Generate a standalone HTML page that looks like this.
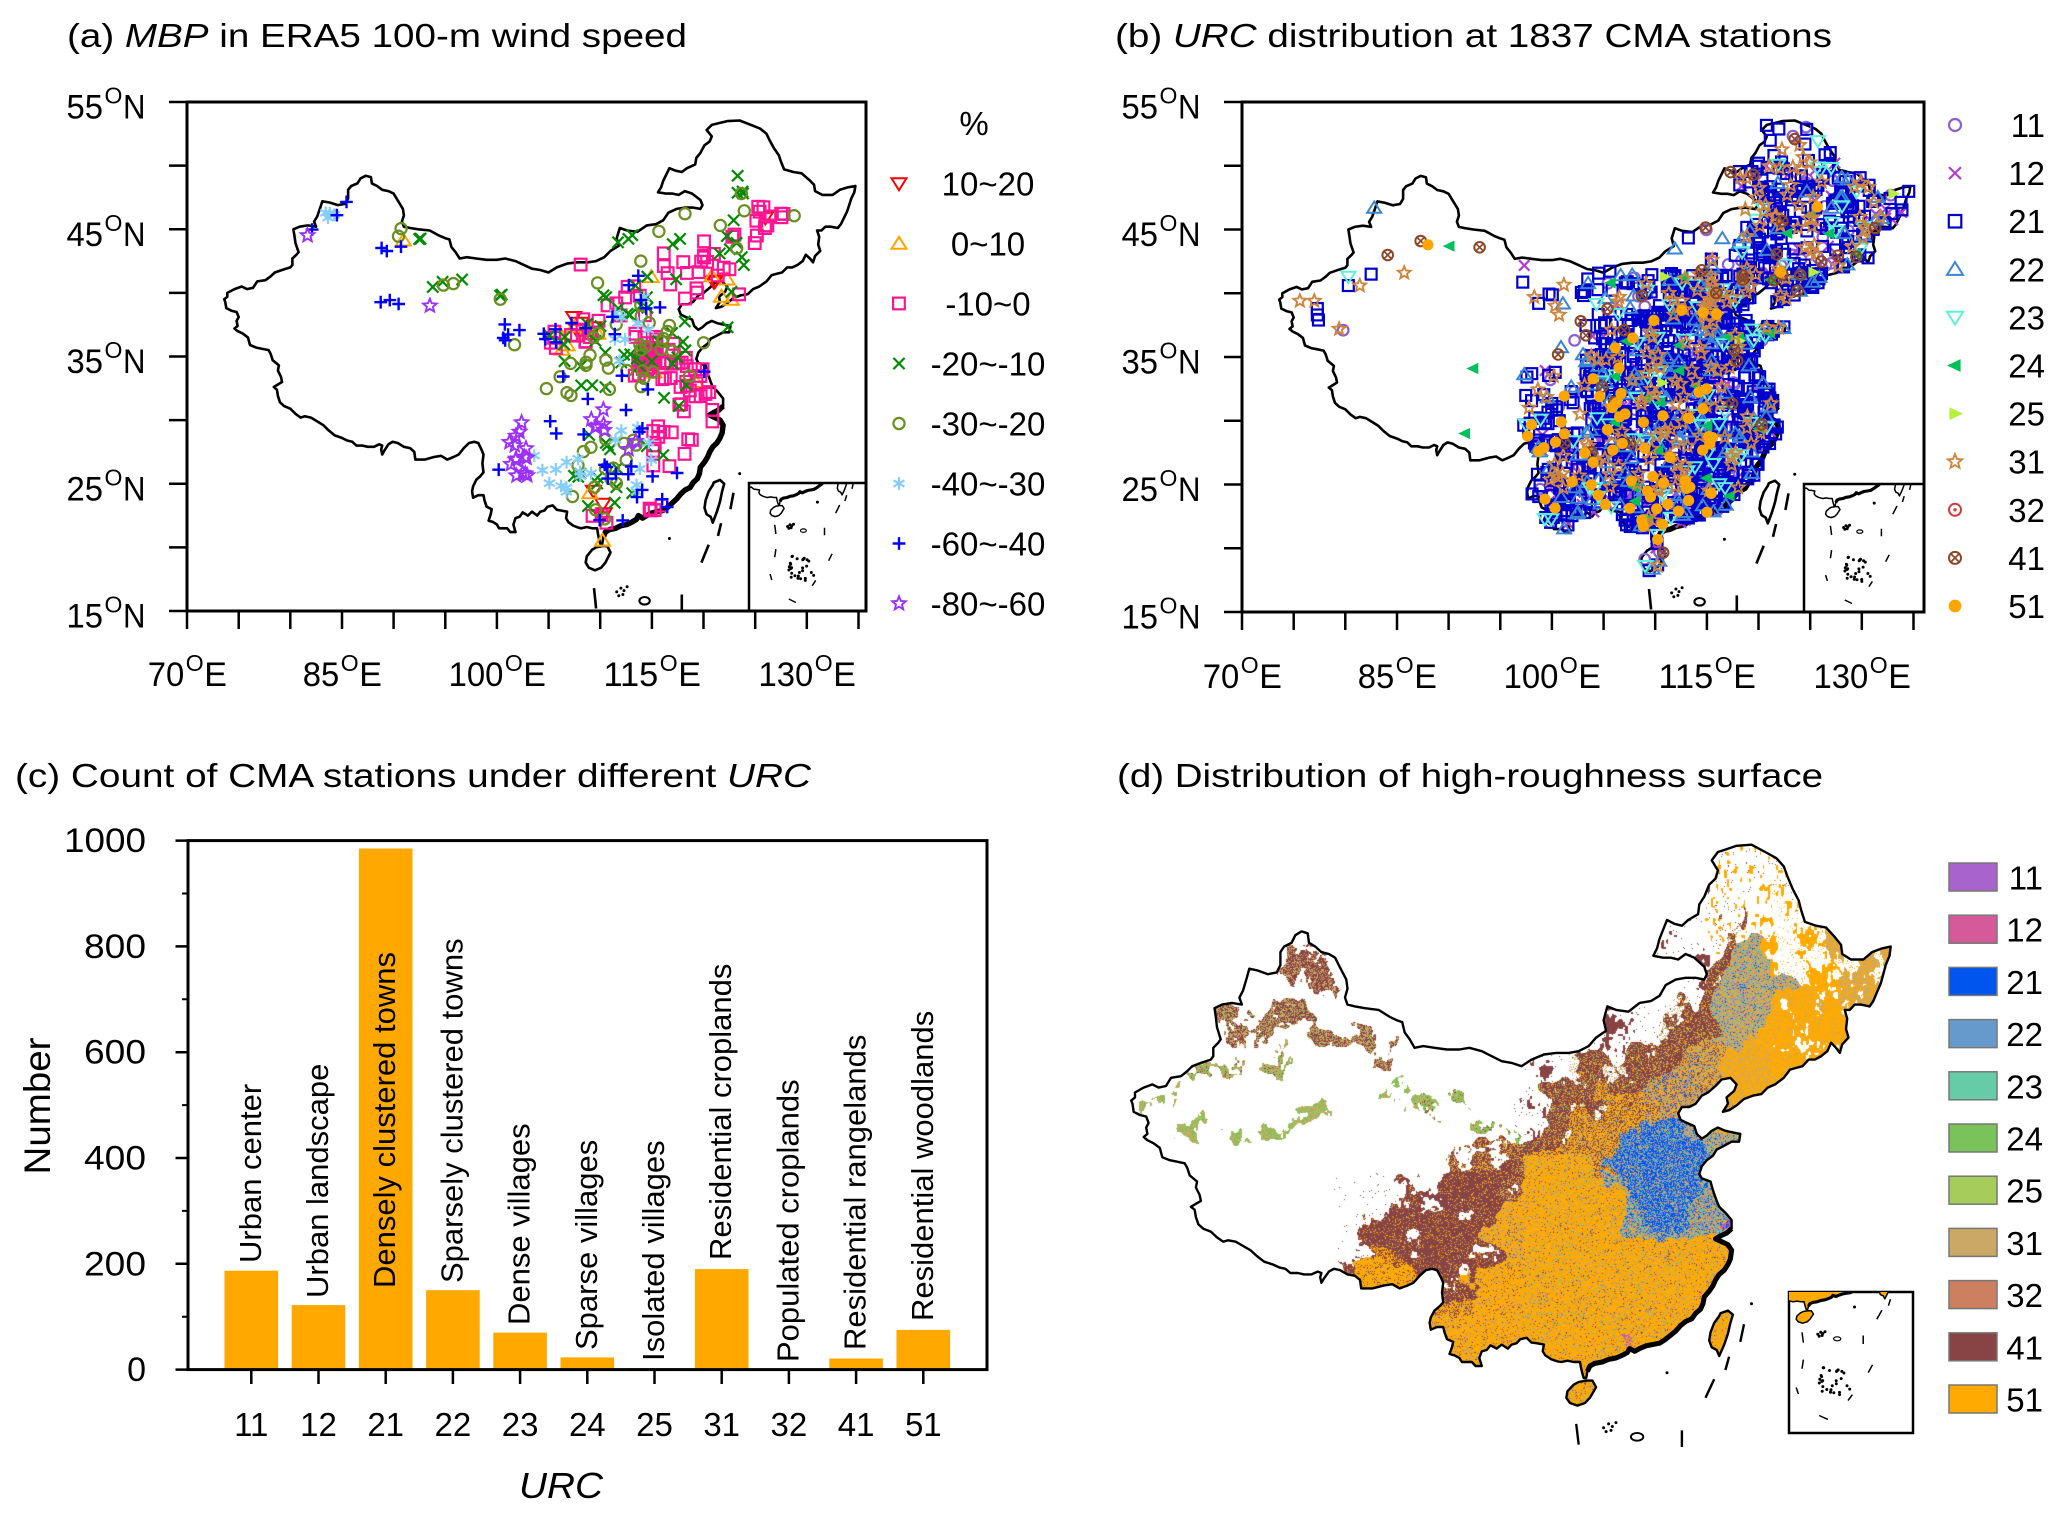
<!DOCTYPE html>
<html><head><meta charset="utf-8"><title>chart</title>
<style>
html,body{margin:0;padding:0;background:#fff;width:2067px;height:1517px;overflow:hidden;}
#wrap{position:relative;width:2067px;height:1517px;background:#fff;overflow:hidden;}
#cv,#sv{position:absolute;left:0;top:0;display:block;}
#sv text{font-family:"Liberation Sans",Arial,Helvetica,sans-serif;fill:#000;}
</style></head><body><div id="wrap">
<canvas id="cv" width="2067" height="1517"></canvas>
<svg id="sv" xmlns="http://www.w3.org/2000/svg" width="2067" height="1517" viewBox="0 0 2067 1517">
<g id="gD"></g><g id="gA"></g><g id="gB"></g>

<g fill="none" stroke="#000" stroke-width="3">
 <rect x="187" y="102" width="679" height="509"/>
 <rect x="1242" y="102" width="682" height="510"/>
 <path stroke-width="2.5" d="M169,102H187M169,165.6H187M169,229.3H187M169,292.9H187M169,356.5H187M169,420.1H187M169,483.8H187M169,547.4H187M169,611H187M187,611V629M238.7,611V629M290.3,611V629M342,611V629M393.6,611V629M445.3,611V629M496.9,611V629M548.6,611V629M600.2,611V629M651.9,611V629M703.5,611V629M755.2,611V629M806.8,611V629M858.5,611V629"/>
 <path stroke-width="2.5" d="M1224,102H1242M1224,165.8H1242M1224,229.5H1242M1224,293.3H1242M1224,357H1242M1224,420.8H1242M1224,484.5H1242M1224,548.3H1242M1224,612H1242M1242,612V630M1293.7,612V630M1345.3,612V630M1397,612V630M1448.6,612V630M1500.3,612V630M1551.9,612V630M1603.6,612V630M1655.2,612V630M1706.9,612V630M1758.5,612V630M1810.2,612V630M1861.8,612V630M1913.5,612V630"/>
</g>

<text x="67" y="47" font-size="33" textLength="620" lengthAdjust="spacingAndGlyphs">(a) <tspan font-style="italic">MBP</tspan> in ERA5 100-m wind speed</text>
<text x="1115" y="47" font-size="33" textLength="717" lengthAdjust="spacingAndGlyphs">(b) <tspan font-style="italic">URC</tspan> distribution at 1837 CMA stations</text>
<text x="15" y="787" font-size="33" textLength="796" lengthAdjust="spacingAndGlyphs">(c) Count of CMA stations under different <tspan font-style="italic">URC</tspan></text>
<text x="1117" y="787" font-size="33" textLength="706" lengthAdjust="spacingAndGlyphs">(d) Distribution of high-roughness surface</text>

<g font-size="34">
<text x="103" y="118.5" text-anchor="end" textLength="36.5" lengthAdjust="spacingAndGlyphs">55</text><text x="104.5" y="103.5" font-size="23">O</text><text x="123" y="118.5" textLength="22.5" lengthAdjust="spacingAndGlyphs">N</text>
<text x="103" y="245.8" text-anchor="end" textLength="36.5" lengthAdjust="spacingAndGlyphs">45</text><text x="104.5" y="230.8" font-size="23">O</text><text x="123" y="245.8" textLength="22.5" lengthAdjust="spacingAndGlyphs">N</text>
<text x="103" y="373" text-anchor="end" textLength="36.5" lengthAdjust="spacingAndGlyphs">35</text><text x="104.5" y="358" font-size="23">O</text><text x="123" y="373" textLength="22.5" lengthAdjust="spacingAndGlyphs">N</text>
<text x="103" y="500.3" text-anchor="end" textLength="36.5" lengthAdjust="spacingAndGlyphs">25</text><text x="104.5" y="485.3" font-size="23">O</text><text x="123" y="500.3" textLength="22.5" lengthAdjust="spacingAndGlyphs">N</text>
<text x="103" y="627.5" text-anchor="end" textLength="36.5" lengthAdjust="spacingAndGlyphs">15</text><text x="104.5" y="612.5" font-size="23">O</text><text x="123" y="627.5" textLength="22.5" lengthAdjust="spacingAndGlyphs">N</text>
<text x="147.8" y="686" textLength="36.5" lengthAdjust="spacingAndGlyphs">70</text><text x="185.8" y="671" font-size="23">O</text><text x="204.2" y="686">E</text>
<text x="302.8" y="686" textLength="36.5" lengthAdjust="spacingAndGlyphs">85</text><text x="340.8" y="671" font-size="23">O</text><text x="359.2" y="686">E</text>
<text x="448.6" y="686" textLength="54.8" lengthAdjust="spacingAndGlyphs">100</text><text x="504.9" y="671" font-size="23">O</text><text x="523.3" y="686">E</text>
<text x="603.5" y="686" textLength="54.8" lengthAdjust="spacingAndGlyphs">115</text><text x="659.8" y="671" font-size="23">O</text><text x="678.2" y="686">E</text>
<text x="758.5" y="686" textLength="54.8" lengthAdjust="spacingAndGlyphs">130</text><text x="814.8" y="671" font-size="23">O</text><text x="833.2" y="686">E</text>
<text x="1158" y="118.5" text-anchor="end" textLength="36.5" lengthAdjust="spacingAndGlyphs">55</text><text x="1159.5" y="103.5" font-size="23">O</text><text x="1178" y="118.5" textLength="22.5" lengthAdjust="spacingAndGlyphs">N</text>
<text x="1158" y="246" text-anchor="end" textLength="36.5" lengthAdjust="spacingAndGlyphs">45</text><text x="1159.5" y="231" font-size="23">O</text><text x="1178" y="246" textLength="22.5" lengthAdjust="spacingAndGlyphs">N</text>
<text x="1158" y="373.5" text-anchor="end" textLength="36.5" lengthAdjust="spacingAndGlyphs">35</text><text x="1159.5" y="358.5" font-size="23">O</text><text x="1178" y="373.5" textLength="22.5" lengthAdjust="spacingAndGlyphs">N</text>
<text x="1158" y="501" text-anchor="end" textLength="36.5" lengthAdjust="spacingAndGlyphs">25</text><text x="1159.5" y="486" font-size="23">O</text><text x="1178" y="501" textLength="22.5" lengthAdjust="spacingAndGlyphs">N</text>
<text x="1158" y="628.5" text-anchor="end" textLength="36.5" lengthAdjust="spacingAndGlyphs">15</text><text x="1159.5" y="613.5" font-size="23">O</text><text x="1178" y="628.5" textLength="22.5" lengthAdjust="spacingAndGlyphs">N</text>
<text x="1202.8" y="688" textLength="36.5" lengthAdjust="spacingAndGlyphs">70</text><text x="1240.8" y="673" font-size="23">O</text><text x="1259.2" y="688">E</text>
<text x="1357.8" y="688" textLength="36.5" lengthAdjust="spacingAndGlyphs">85</text><text x="1395.8" y="673" font-size="23">O</text><text x="1414.2" y="688">E</text>
<text x="1503.6" y="688" textLength="54.8" lengthAdjust="spacingAndGlyphs">100</text><text x="1559.9" y="673" font-size="23">O</text><text x="1578.3" y="688">E</text>
<text x="1658.5" y="688" textLength="54.8" lengthAdjust="spacingAndGlyphs">115</text><text x="1714.8" y="673" font-size="23">O</text><text x="1733.2" y="688">E</text>
<text x="1813.5" y="688" textLength="54.8" lengthAdjust="spacingAndGlyphs">130</text><text x="1869.8" y="673" font-size="23">O</text><text x="1888.2" y="688">E</text>
</g>

<g font-size="33" text-anchor="middle">
<text x="974" y="135">%</text>
<text x="988" y="195.5">10~20</text>
<text x="988" y="255.5">0~10</text>
<text x="988" y="315.5">-10~0</text>
<text x="988" y="375.5">-20~-10</text>
<text x="988" y="435.5">-30~-20</text>
<text x="988" y="495.5">-40~-30</text>
<text x="988" y="555.5">-60~-40</text>
<text x="988" y="615.5">-80~-60</text>
</g>
<g font-size="33" text-anchor="end">
<text x="2045" y="137">11</text>
<text x="2045" y="185.1">12</text>
<text x="2045" y="233.2">21</text>
<text x="2045" y="281.3">22</text>
<text x="2045" y="329.4">23</text>
<text x="2045" y="377.5">24</text>
<text x="2045" y="425.6">25</text>
<text x="2045" y="473.7">31</text>
<text x="2045" y="521.8">32</text>
<text x="2045" y="569.9">41</text>
<text x="2045" y="618">51</text>
</g>

<g stroke="#777" stroke-width="1.5">
<rect x="1949" y="863" width="48" height="28" fill="#a863cc"/>
<rect x="1949" y="915.2" width="48" height="28" fill="#d45a9a"/>
<rect x="1949" y="967.4" width="48" height="28" fill="#0055ee"/>
<rect x="1949" y="1019.6" width="48" height="28" fill="#6699cc"/>
<rect x="1949" y="1071.8" width="48" height="28" fill="#66cca8"/>
<rect x="1949" y="1124" width="48" height="28" fill="#7ac35a"/>
<rect x="1949" y="1176.2" width="48" height="28" fill="#a6cc5c"/>
<rect x="1949" y="1228.4" width="48" height="28" fill="#cca866"/>
<rect x="1949" y="1280.6" width="48" height="28" fill="#cc8060"/>
<rect x="1949" y="1332.8" width="48" height="28" fill="#884444"/>
<rect x="1949" y="1385" width="48" height="28" fill="#ffaa00"/>
</g>
<g font-size="33" text-anchor="end">
<text x="2043" y="889.5">11</text>
<text x="2043" y="941.7">12</text>
<text x="2043" y="993.9">21</text>
<text x="2043" y="1046.1">22</text>
<text x="2043" y="1098.3">23</text>
<text x="2043" y="1150.5">24</text>
<text x="2043" y="1202.7">25</text>
<text x="2043" y="1254.9">31</text>
<text x="2043" y="1307.1">32</text>
<text x="2043" y="1359.3">41</text>
<text x="2043" y="1411.5">51</text>
</g>

<g fill="#ffa800">
<rect x="224.5" y="1270.7" width="53.6" height="98.9"/>
<rect x="291.7" y="1305.1" width="53.6" height="64.5"/>
<rect x="358.9" y="848.5" width="53.6" height="521.1"/>
<rect x="426.1" y="1290.2" width="53.6" height="79.4"/>
<rect x="493.3" y="1332.6" width="53.6" height="37"/>
<rect x="560.5" y="1357.4" width="53.6" height="12.2"/>
<rect x="627.7" y="1368.2" width="53.6" height="1.4"/>
<rect x="694.9" y="1269.1" width="53.6" height="100.5"/>
<rect x="829.3" y="1358.5" width="53.6" height="11.1"/>
<rect x="896.5" y="1329.9" width="53.6" height="39.7"/>
</g>
<g fill="none" stroke="#000">
<rect x="188" y="840.6" width="799" height="529" stroke-width="3"/>
<path stroke-width="2.5" d="M175.5,840.6H188M175.5,946.4H188M175.5,1052.2H188M175.5,1158H188M175.5,1263.8H188M175.5,1369.6H188"/>
<path stroke-width="2" d="M182,893.5H188M182,999.3H188M182,1105.1H188M182,1210.9H188M182,1316.7H188"/>
<path stroke-width="2.5" d="M251.3,1369.6V1384M318.5,1369.6V1384M385.7,1369.6V1384M452.9,1369.6V1384M520.1,1369.6V1384M587.3,1369.6V1384M654.5,1369.6V1384M721.7,1369.6V1384M788.9,1369.6V1384M856.1,1369.6V1384M923.3,1369.6V1384"/>
</g>
<g font-size="34" text-anchor="end">
<text x="146" y="852.1" textLength="82" lengthAdjust="spacingAndGlyphs">1000</text>
<text x="146" y="957.9" textLength="62" lengthAdjust="spacingAndGlyphs">800</text>
<text x="146" y="1063.7" textLength="62" lengthAdjust="spacingAndGlyphs">600</text>
<text x="146" y="1169.5" textLength="62" lengthAdjust="spacingAndGlyphs">400</text>
<text x="146" y="1275.3" textLength="62" lengthAdjust="spacingAndGlyphs">200</text>
<text x="146" y="1381.1">0</text>
</g>
<g font-size="33" text-anchor="middle">
<text x="251.3" y="1436">11</text>
<text x="318.5" y="1436">12</text>
<text x="385.7" y="1436">21</text>
<text x="452.9" y="1436">22</text>
<text x="520.1" y="1436">23</text>
<text x="587.3" y="1436">24</text>
<text x="654.5" y="1436">25</text>
<text x="721.7" y="1436">31</text>
<text x="788.9" y="1436">32</text>
<text x="856.1" y="1436">41</text>
<text x="923.3" y="1436">51</text>
</g>
<text x="561" y="1498" font-size="36" font-style="italic" text-anchor="middle" textLength="84" lengthAdjust="spacingAndGlyphs">URC</text>
<text transform="translate(50,1106) rotate(-90)" font-size="37" text-anchor="middle" textLength="137" lengthAdjust="spacingAndGlyphs">Number</text>
<g font-size="31">
<text transform="translate(260.8,1263) rotate(-90)">Urban center</text>
<text transform="translate(328,1298) rotate(-90)">Urban landscape</text>
<text transform="translate(395.2,1288) rotate(-90)">Densely clustered towns</text>
<text transform="translate(462.4,1283) rotate(-90)">Sparsely clustered towns</text>
<text transform="translate(529.6,1325) rotate(-90)">Dense villages</text>
<text transform="translate(596.8,1350) rotate(-90)">Sparse villages</text>
<text transform="translate(664,1361) rotate(-90)">Isolated villages</text>
<text transform="translate(731.2,1260) rotate(-90)">Residential croplands</text>
<text transform="translate(798.4,1362) rotate(-90)">Populated croplands</text>
<text transform="translate(865.6,1350) rotate(-90)">Residential rangelands</text>
<text transform="translate(932.8,1321) rotate(-90)">Residential woodlands</text>
</g>
</svg>
</div>
<script>
(function(){
function mb(a){return function(){a|=0;a=a+0x6D2B79F5|0;var t=Math.imul(a^a>>>15,1|a);t=t+Math.imul(t^t>>>7,61|t)^t;return((t^t>>>14)>>>0)/4294967296;};}
var R=mb(987654);
function gs(){var u=R()||1e-9,v=R();return Math.sqrt(-2*Math.log(u))*Math.cos(6.283185*v);}
var CN=[[121.3,53.3],[122.3,53.5],[123.5,53.55],[124.6,53.2],[125.5,52.9],[126.1,52.5],[126.4,52.0],[126.8,51.4],[127.3,50.8],[127.5,50.3],[127.8,49.7],[128.7,49.5],[129.5,49.4],[130.2,48.9],[130.7,48.5],[130.8,48.0],[131.5,47.7],[132.5,47.7],[133.2,48.1],[134.0,48.3],[134.7,48.4],[134.6,47.9],[134.3,47.4],[134.1,46.9],[133.9,46.4],[133.6,45.9],[133.3,45.4],[133.0,45.1],[132.3,45.2],[131.8,45.2],[131.4,44.9],[131.0,44.9],[131.2,44.4],[131.1,43.8],[131.3,43.3],[130.8,42.9],[130.6,42.4],[130.3,42.7],[129.9,43.0],[129.6,42.5],[129.1,42.2],[128.6,42.0],[128.1,42.0],[127.6,41.6],[127.1,41.5],[126.6,41.4],[126.1,40.9],[125.4,40.5],[124.8,40.3],[124.3,39.9],
[123.6,39.8],[122.9,39.6],[122.3,39.2],[121.7,38.9],[121.2,38.8],[121.6,39.3],[121.5,39.7],[122.1,40.1],[122.3,40.5],[121.8,40.9],[121.1,40.8],[120.6,40.4],[120.0,40.0],[119.5,39.8],[119.0,39.3],[118.5,39.1],[117.9,39.1],[117.6,38.7],[117.8,38.3],[118.3,38.1],[118.9,37.9],[119.1,37.4],[119.5,37.1],[119.9,37.3],[120.3,37.6],[120.8,37.8],[121.4,37.6],[122.0,37.5],[122.6,37.4],[122.5,36.9],[121.9,36.9],[121.2,36.6],[120.7,36.4],[120.4,36.0],[119.9,35.7],[119.5,35.3],[119.3,34.8],[119.5,34.5],[120.2,34.3],[120.4,33.7],[120.7,33.0],[120.9,32.6],[121.4,32.2],[121.9,31.7],[121.9,31.1],[121.5,30.8],[121.0,30.6],[120.6,30.4],[121.1,30.2],[121.6,30.0],[121.9,29.6],[121.8,29.0],[121.6,28.6],[121.3,28.2],[120.9,27.9],[120.6,27.5],[120.4,27.1],[120.1,26.7],[119.7,26.3],[119.6,25.8],[119.4,25.4],[119.0,25.1],[118.7,24.7],[118.2,24.5],[117.8,24.2],[117.4,23.8],[117.0,23.5],[116.6,23.2],[116.1,22.9],[115.5,22.8],[115.0,22.7],[114.5,22.5],[114.1,22.3],[113.7,22.5],[113.5,22.2],[113.1,22.0],[112.6,21.8],[112.0,21.7],[111.5,21.5],[110.9,21.4],[110.5,21.2],[110.3,20.8],[110.2,20.3],[110.0,20.3],[109.9,20.6],[109.8,21.0],[109.7,21.5],[109.2,21.5],[108.7,21.6],[108.2,21.5],[107.9,21.55],
[107.4,21.7],[106.9,22.0],[106.7,22.3],[106.8,22.8],[106.2,22.9],[105.8,22.95],[105.4,23.3],[104.9,23.2],[104.6,22.9],[104.2,22.8],[103.9,22.5],[103.4,22.8],[103.0,22.5],[102.5,22.75],[102.2,22.4],[101.8,22.3],[101.6,21.8],[101.8,21.2],[101.3,21.2],[101.0,21.5],[100.5,21.5],[100.2,21.5],[100.0,21.8],[99.6,22.0],[99.2,22.1],[99.4,22.6],[99.5,23.0],[99.0,23.2],[98.8,23.7],[98.7,24.1],[98.2,24.1],[97.7,23.9],[97.6,24.4],[97.7,24.8],[98.0,25.3],[98.4,25.6],[98.7,25.9],[98.6,26.6],[98.7,27.3],[98.5,27.7],[98.2,28.2],[97.8,28.3],[97.3,28.2],[96.8,27.8],[96.3,27.3],[95.8,27.1],[95.2,26.9],[94.6,27.2],[93.9,27.1],[93.0,26.9],[92.1,26.9],[92.0,27.5],[91.6,27.8],[91.0,27.9],[90.4,28.2],[89.9,28.3],[89.5,28.1],[89.1,27.6],[88.9,27.3],[88.8,27.7],[88.9,28.0],[88.6,28.1],[88.1,27.9],[87.5,27.9],[87.0,28.0],[86.4,28.0],[86.0,28.3],[85.5,28.4],[85.0,28.6],[84.3,28.8],[83.7,29.2],[83.2,29.6],[82.6,29.9],[82.0,30.2],[81.4,30.3],[81.0,30.2],[80.5,30.5],[80.0,30.9],[79.4,31.1],[79.0,31.4],[78.8,31.9],[78.7,32.4],[78.4,32.6],[78.8,32.8],[79.2,33.0],[79.1,33.4],[78.8,33.9],[78.9,34.3],[78.3,34.7],[78.1,35.2],[77.9,35.5],[77.3,35.6],[76.7,35.7],[76.1,35.9],[75.9,36.5],[75.4,36.8],[74.9,37.0],[74.6,37.2],[74.9,37.4],[74.8,37.8],[75.0,38.1],[74.8,38.5],[74.3,38.6],[73.8,38.8],[73.7,39.3],[73.6,39.5],[73.9,39.7],[73.9,40.0],[74.6,40.3],[75.3,40.5],[75.8,40.3],[76.4,40.4],[76.8,40.9],[77.6,41.0],[78.1,41.3],[78.5,41.6],[79.2,41.8],[80.0,42.0],[80.2,42.2],[80.2,42.7],[80.6,43.0],[80.8,43.2],[80.5,43.9],[80.4,44.5],[80.3,45.0],[80.9,45.2],[81.7,45.3],[82.5,45.2],[82.3,45.6],[82.6,46.0],[82.9,46.7],[83.1,47.2],[83.8,47.1],[84.6,46.9],[85.3,47.0],[85.6,47.4],[85.6,48.1],[85.9,48.4],[86.5,48.6],[86.8,49.0],[87.3,49.2],[87.8,49.1],[87.9,48.6],[88.4,48.4],[88.9,48.1],[89.5,48.0],[90.0,47.8],[90.3,47.4],[90.6,47.0],[90.9,46.6],[91.0,46.1],[90.8,45.6],[91.0,45.2],[91.6,45.1],[92.4,45.0],[93.5,44.9],[94.4,44.5],[95.0,44.3],[95.4,44.2],[95.6,43.6],[96.0,43.2],[96.4,42.7],[97.1,42.8],[98.0,42.7],[99.0,42.6],[100.0,42.6],[100.8,42.7],[101.8,42.5],[102.6,42.2],[103.4,41.9],[104.2,41.8],[105.0,41.6],[105.8,42.0],[106.8,42.3],[107.8,42.4],[108.8,42.4],[109.6,42.5],[110.4,42.8],[111.0,43.3],[111.8,43.7],[111.6,44.3],[111.9,45.1],[112.6,44.9],[113.6,44.8],[114.5,45.3],[115.4,45.4],[116.1,45.7],[116.6,46.3],[117.4,46.6],[118.2,46.7],[119.0,46.7],[119.7,46.6],[119.9,46.9],[119.7,47.3],[118.9,47.8],[118.2,48.0],[117.6,47.7],[117.0,47.8],[116.4,47.8],[115.6,47.9],[115.9,48.3],[116.1,48.8],[116.4,49.3],[116.7,49.8],[117.3,49.6],[117.9,49.5],[118.4,49.8],[119.2,50.1],[119.3,50.6],[119.7,51.0],[120.1,51.6],[120.6,51.9],[120.8,52.3],[120.5,52.6],[120.3,52.8],[120.8,53.2]];
var TW=[[121.0,25.1],[121.6,25.3],[122.0,25.0],[121.8,24.4],[121.6,23.6],[121.3,22.8],[120.9,21.95],[120.7,22.4],[120.3,22.6],[120.1,23.1],[120.2,23.7],[120.5,24.4],[120.9,24.9]];
var HN=[[108.7,19.3],[108.6,18.8],[108.9,18.4],[109.5,18.2],[110.1,18.4],[110.5,18.8],[111.0,19.6],[110.7,20.1],[110.2,20.1],[109.6,20.0],[109.2,19.8]];
var i0=-1,i1=-1;CN.forEach(function(p,i){if(p[0]===121.9&&p[1]===31.1)i0=i;if(p[0]===110.3&&p[1]===20.8)i1=i;});
var COAST=CN.slice(i0,i1+1);
function inP(x,y,P){var c=false;for(var i=0,j=P.length-1;i<P.length;j=i++){var xi=P[i][0],yi=P[i][1],xj=P[j][0],yj=P[j][1];if(((yi>y)!==(yj>y))&&(x<(xj-xi)*(y-yi)/(yj-yi)+xi))c=!c;}return c;}
function inChina(o,a){return inP(o,a,CN)||inP(o,a,HN);}
var pA=function(o,a){return[187+(o-70)*10.33,611-(a-15)*12.725];};
var pB=function(o,a){return[1242+(o-70)*10.33,612-(a-15)*12.75];};
function mer(a){return Math.log(Math.tan(Math.PI/4+a*Math.PI/360));}
var pD=function(o,a){return[1130+(o-73.5)*12.43,1635.7-712*mer(a)];};
var iA=function(o,a){return[749+(o-105)*5.85,483+(24-a)*5.8];};
var iB=function(o,a){return[1804+(o-105)*6.0,484+(24-a)*5.8];};
var iD=function(o,a){return[1789+(o-107.6)*7.2,1292+(23-a)*6.5];};
function f(v){return v.toFixed(1);}
function path(P,pr,cl){var s='';for(var i=0;i<P.length;i++){var q=pr(P[i][0],P[i][1]);s+=(i?'L':'M')+f(q[0])+','+f(q[1]);}return s+(cl?'Z':'');}
var DASH=[[[109.4,16.8],[109.6,15.2]],[[109.6,12.6],[109.4,11.2]],[[108.6,8.3],[108.9,7.3]],[[111.8,4.0],[113.0,3.4]],[[115.8,6.3],[116.4,7.2]],[[118.6,10.6],[119.2,11.8]],[[117.9,16.3],[117.9,15.0]],[[119.8,18.8],[120.5,20.2]],[[121.4,20.9],[121.7,21.9]],[[122.6,23.0],[122.9,24.3]]];
var DOTS=[[111.6,16.5],[112.0,16.8],[112.3,16.6],[111.8,16.2],[112.6,16.9],[112.2,16.3],[116.7,20.7],[123.5,25.8]];
var SPR=[];for(var k=0;k<28;k++){SPR.push([111.8+R()*4.6,7.2+R()*4.2]);}
function geo(pr,sw,minLat){
 var s='<path d="'+path(CN,pr,1)+'" fill="none" stroke="#000" stroke-width="'+sw+'" stroke-linejoin="round"/>';
 s+='<path d="'+path(TW,pr,1)+path(HN,pr,1)+'" fill="none" stroke="#000" stroke-width="'+sw+'" stroke-linejoin="round"/>';
 s+='<path d="'+path(COAST,pr,0)+'" fill="none" stroke="#000" stroke-width="'+(sw*2.1)+'" stroke-linejoin="round"/>';
 var d='';DASH.forEach(function(q){if(Math.min(q[0][1],q[1][1])>=minLat)d+=path(q,pr,0);});
 if(d)s+='<path d="'+d+'" fill="none" stroke="#000" stroke-width="'+sw+'"/>';
 DOTS.concat(SPR).forEach(function(p){if(p[1]<minLat)return;var q=pr(p[0],p[1]);s+='<circle cx="'+f(q[0])+'" cy="'+f(q[1])+'" r="1.5" fill="#000"/>';});
 var z=pr(114.3,15.8),z2=pr(114.8,15.8),z3=pr(114.3,16.1);
 s+='<ellipse cx="'+f(z[0])+'" cy="'+f(z[1])+'" rx="'+f(Math.abs(z2[0]-z[0]))+'" ry="'+f(Math.abs(z3[1]-z[1]))+'" fill="none" stroke="#000" stroke-width="'+(sw*0.8)+'"/>';
 return s;
}
function sty(c,w){return ' fill="none" stroke="'+c+'" stroke-width="'+w+'"';}
function mk(t,x,y,c,s){
 var h=s/2,X=f(x),Y=f(y),a,b,e,d,kk;
 switch(t){
 case 'tdn':return '<path d="M'+f(x-h)+','+f(y-h*0.7)+'H'+f(x+h)+'L'+X+','+f(y+h*0.9)+'Z"'+sty(c,2)+'/>';
 case 'tup':return '<path d="M'+f(x-h)+','+f(y+h*0.7)+'H'+f(x+h)+'L'+X+','+f(y-h*0.9)+'Z"'+sty(c,2)+'/>';
 case 'sq':a=h*0.78;return '<rect x="'+f(x-a)+'" y="'+f(y-a)+'" width="'+f(2*a)+'" height="'+f(2*a)+'"'+sty(c,2.2)+'/>';
 case 'x':a=h*0.75;return '<path d="M'+f(x-a)+','+f(y-a)+'L'+f(x+a)+','+f(y+a)+'M'+f(x-a)+','+f(y+a)+'L'+f(x+a)+','+f(y-a)+'"'+sty(c,2.2)+'/>';
 case 'ci':return '<circle cx="'+X+'" cy="'+Y+'" r="'+f(h*0.75)+'"'+sty(c,2.2)+'/>';
 case 'as':a=h*0.85;b=a*0.866;e=a*0.5;return '<path d="M'+X+','+f(y-a)+'V'+f(y+a)+'M'+f(x-b)+','+f(y-e)+'L'+f(x+b)+','+f(y+e)+'M'+f(x-b)+','+f(y+e)+'L'+f(x+b)+','+f(y-e)+'"'+sty(c,2.2)+'/>';
 case 'pl':a=h*0.85;return '<path d="M'+f(x-a)+','+Y+'H'+f(x+a)+'M'+X+','+f(y-a)+'V'+f(y+a)+'"'+sty(c,2.4)+'/>';
 case 'st':d='';for(kk=0;kk<10;kk++){var rr=kk%2?h*0.42:h*0.95,an=-Math.PI/2+kk*Math.PI/5;d+=(kk?'L':'M')+f(x+rr*Math.cos(an))+','+f(y+rr*Math.sin(an));}return '<path d="'+d+'Z"'+sty(c,1.9)+'/>';
 case 'tl':return '<path d="M'+f(x-h)+','+Y+'L'+f(x+h*0.7)+','+f(y-h*0.8)+'V'+f(y+h*0.8)+'Z" fill="'+c+'"/>';
 case 'tr':return '<path d="M'+f(x+h)+','+Y+'L'+f(x-h*0.7)+','+f(y-h*0.8)+'V'+f(y+h*0.8)+'Z" fill="'+c+'"/>';
 case 'cd':return '<circle cx="'+X+'" cy="'+Y+'" r="'+f(h*0.75)+'"'+sty(c,2)+'/><circle cx="'+X+'" cy="'+Y+'" r="1.7" fill="'+c+'"/>';
 case 'cx':a=h*0.5;return '<circle cx="'+X+'" cy="'+Y+'" r="'+f(h*0.75)+'"'+sty(c,2)+'/><path d="M'+f(x-a)+','+f(y-a)+'L'+f(x+a)+','+f(y+a)+'M'+f(x-a)+','+f(y+a)+'L'+f(x+a)+','+f(y-a)+'"'+sty(c,1.7)+'/>';
 case 'fc':return '<circle cx="'+X+'" cy="'+Y+'" r="'+f(h*0.8)+'" fill="'+c+'"/>';
 }
 return '';
}
/* ---------- panel (a) ---------- */
var TA=['tdn','tup','sq','x','ci','as','pl','st'];
var CA=['#ff0000','#ffa500','#ff1493','#008b00','#6b8e23','#87cefa','#0000ff','#9b30ff'];
var CL=[[0,108.8,37.3,0.6,0.4,4],[0,110,22.6,0.4,0.6,3],[0,126.2,46.1,0.15,0.15,1],[0,121.1,40.6,0.3,0.3,2],[0,109.2,24.3,0.2,0.2,1],
[1,108,37.1,1,0.6,6],[1,115,34.5,0.8,0.8,5],[1,121.8,40.2,0.6,0.8,4],[1,91,44.3,0.1,0.1,1],[1,106,35.6,0.2,0.2,1],[1,110.4,20.6,0.1,0.1,1],[1,108.9,24.1,0.2,0.2,1],[1,119.3,32.7,0.3,0.3,1],[1,114.8,41.5,0.2,0.2,1],
[2,114.9,34.9,0.8,0.9,45],[2,118.6,33,1.4,1.4,22],[2,116,28.6,1.5,1,12],[2,119.3,41.3,2,1.5,20],[2,125.3,45,1.2,1.3,12],[2,107.5,37,1,0.6,10],[2,113,38.6,1.2,1.5,8],[2,116,22.9,0.6,0.2,4],[2,110.5,22.1,0.5,0.3,3],[2,108.3,42.3,0.1,0.1,1],[2,106,35.8,0.5,0.5,3],[2,120.5,30.4,0.5,0.8,3],[2,127.8,46.1,0.4,0.2,3],
[3,114.5,37,3,3,34],[3,123.5,44.5,0.9,2.5,10],[3,110,25,3,2,15],[3,107,35,2,2,10],[3,94.5,40.8,1,0.2,3],[3,92.4,44.5,0.2,0.2,2],[3,112.5,44.1,1,0.3,3],[3,123.7,47.8,0.3,0.3,2],[3,100.4,39.8,0.3,0.3,2],
[4,112,35,3,3,28],[4,110.2,25.5,2,2,15],[4,119,40,3,3,8],[4,90.7,44.8,0.2,0.2,2],[4,95,40.7,0.4,0.1,2],[4,100.4,39.6,0.2,0.2,1],[4,106.8,32.3,1,0.3,3],[4,128.9,46,0.1,0.1,1],[4,115.6,44.8,0.1,0.1,1],[4,124,47.6,0.3,0.5,2],[4,101.8,35.9,0.1,0.1,1],
[5,106.5,25.8,2,1,12],[5,114,27,2,2,8],[5,84,46.2,0.4,0.3,4],[5,113.5,36.5,1.5,1.5,8],
[6,111,29,4,5,25],[6,101.5,36.8,1.5,0.5,5],[6,89.5,38.8,1,0.6,3],[6,89.5,43.5,1.5,0.3,3],[6,84.5,46.5,1.5,0.6,3],[6,105,36,1,2,4],[6,116,25,1,1,5],[6,113,39,1.5,1.5,5],
[7,102.2,27.4,0.6,0.9,15],[7,110,30,0.8,1,6],[7,81.6,44.6,0.1,0.1,1],[7,93.5,39,0.1,0.1,1],[7,113,28,0.5,0.5,2]];
var BA=[[],[],[],[],[],[],[],[]];
CL.forEach(function(c){for(var i=0;i<c[5];i++){for(var t=0;t<25;t++){var o=c[1]+c[3]*gs(),a=c[2]+c[4]*gs();if(inChina(o,a)){BA[c[0]].push([o,a]);break;}}}});
var mA='';for(var ca=0;ca<8;ca++){BA[ca].forEach(function(p){var q=pA(p[0],p[1]);mA+=mk(TA[ca],q[0],q[1],CA[ca],15);});}
var sA='<clipPath id="cA"><rect x="187" y="102" width="679" height="509"/></clipPath><clipPath id="cAi"><rect x="749" y="483" width="117" height="128"/></clipPath>';
sA+='<g clip-path="url(#cA)">'+geo(pA,2.6,14)+mA+'</g>';
sA+='<rect x="749" y="483" width="117" height="128" fill="#fff" stroke="#000" stroke-width="2.5"/>';
sA+='<g clip-path="url(#cAi)">'+geo(iA,1.5,-90)+'</g>';
for(var li=0;li<8;li++){sA+=mk(TA[li],899,183.5+60*li,CA[li],15);}
document.getElementById('gA').innerHTML=sA;
/* ---------- panel (b) ---------- */
var KB=[11,12,21,22,23,24,25,31,32,41,51];
var TB={11:'ci',12:'x',21:'sq',22:'tup',23:'tdn',24:'tl',25:'tr',31:'st',32:'cd',41:'cx',51:'fc'};
var CB={11:'#8a5fd6',12:'#b03fd0',21:'#0000cd',22:'#3a86d6',23:'#5ff0d8',24:'#00c05a',25:'#b4f03c',31:'#cd853f',32:'#d03c3c',41:'#8b4726',51:'#ffa500'};
var BK={};KB.forEach(function(k){BK[k]=[];});
var WB=[[22,82.8,46.7],[41,84.1,43.0],[41,87.3,44.1],[51,88.0,43.8],[24,90.1,43.7],[41,93.0,43.6],[31,85.7,41.6],[21,80.3,40.6],[21,82.5,41.5],[23,80.3,41.3],[31,81.4,40.6],[31,75.6,39.4],[31,77.0,39.4],[21,77.3,38.8],[21,77.3,38.3],[21,77.4,37.9],[11,79.8,37.1],[31,79.4,37.2],[31,98.3,39.7],[31,100.3,39.0],[31,100.7,38.3],[41,102.8,37.8],[41,103.3,36.7],[41,100.6,35.2],[11,102.2,36.3],[41,107,37.1],[41,108.7,39.8],[21,107.1,40.8],[21,107.3,40.9],[24,92.4,34.1],[24,91.6,29.0],[23,98.9,30.1],[51,100.9,29.9],[51,98.7,27.6],[41,123.5,52.1],[41,117.3,49.5],[41,119.5,49.3],[21,124.5,51.7],[21,120.0,50.2],[21,121.5,50.8],[12,127.4,50.2],[41,114.5,41.8],[24,112.7,41.3],[25,110.9,41.3],[22,111.9,43.5],[22,118.1,43.9],[22,116.5,44.3]];
WB.forEach(function(w){BK[w[0]].push([w[1],w[2]]);});
function dens(o,a){if(o<97)return 0;if(a>50)return 0.2;if(o<103){if(a<29)return 0.9;if(a<34)return 0.3;return 0.05;}if(a>41.5){if(o<118)return a<43?0.2:0.05;return 0.7;}if(o<107&&a>35.5)return 0.45;if(o<111&&a>38.5)return 0.5;return 1;}
var cnt=0,guard=0;
while(cnt<1790&&guard<300000){guard++;var o=97+R()*38,a=18+R()*36;var dn=dens(o,a);if(dn<=0||R()>dn)continue;if(!inChina(o,a))continue;
 var r=R();var p51=(o<116&&a<32.5)?0.09:0.01,p41=a>40?0.03:0.006,p31=a>38?0.14:0.09;
 var tb=[[51,p51],[41,p41],[31,p31],[24,0.013],[25,0.002],[11,0.09],[12,0.065],[22,0.085],[23,0.04]];
 var c=21,cum=0;for(var i=0;i<tb.length;i++){cum+=tb[i][1];if(r<cum){c=tb[i][0];break;}}
 BK[c].push([o,a]);cnt++;}
var mB='';KB.forEach(function(k){BK[k].forEach(function(p){var q=pB(p[0],p[1]);mB+=mk(TB[k],q[0],q[1],CB[k],14);});});
var sB='<clipPath id="cB"><rect x="1242" y="102" width="682" height="510"/></clipPath><clipPath id="cBi"><rect x="1804" y="484" width="120" height="128"/></clipPath>';
sB+='<g clip-path="url(#cB)">'+geo(pB,2.6,14)+mB+'</g>';
sB+='<rect x="1804" y="484" width="120" height="128" fill="#fff" stroke="#000" stroke-width="2.5"/>';
sB+='<g clip-path="url(#cBi)">'+geo(iB,1.5,-90)+'</g>';
KB.forEach(function(k,i){sB+=mk(TB[k],1955,125+48.1*i,CB[k],16);});
document.getElementById('gB').innerHTML=sB;
/* ---------- panel (d) ---------- */
var sD='<clipPath id="cD"><rect x="1086" y="800" width="830" height="647"/></clipPath><clipPath id="cDi"><rect x="1789" y="1292" width="124" height="141"/></clipPath>';
sD+='<g clip-path="url(#cD)">'+geo(pD,2.4,14.5)+'</g>';
sD+='<rect x="1789" y="1292" width="124" height="141" fill="#fff" stroke="#000" stroke-width="2.5"/>';
sD+='<g clip-path="url(#cDi)"><path d="'+path(CN,iD,1)+path(TW,iD,1)+path(HN,iD,1)+'" fill="#ffaa00" stroke="none"/>'+geo(iD,1.5,-90)+'</g>';
document.getElementById('gD').innerHTML=sD;

var COL={11:[168,99,204],12:[212,90,154],21:[0,85,238],22:[102,153,204],23:[102,204,168],24:[122,195,90],25:[166,204,92],31:[204,168,102],32:[204,128,96],41:[136,68,68],51:[255,170,0]};
function pk(r,a){var acc=0;for(var i=0;i<a.length;i++){acc+=a[i][1];if(r<acc)return a[i][0];}return a[0][0];}
function vn(seed,cell){var rr=mb(seed),W=600,H=300,g=new Float32Array(W*H);for(var i=0;i<W*H;i++)g[i]=rr()*2-1;
 return function(x,y){var u=(x-60)/cell,v=(y-10)/cell,i=Math.floor(u),j=Math.floor(v),fu=u-i,fv=v-j;fu=fu*fu*(3-2*fu);fv=fv*fv*(3-2*fv);i=((i%W)+W)%W;j=((j%H)+H)%H;var i1=(i+1)%W,j1=(j+1)%H;var A=g[j*W+i],B=g[j*W+i1],C=g[j1*W+i],D=g[j1*W+i1];return A+(B-A)*fu+(C-A)*fv+(A-B-C+D)*fu*fv;};}
function bandLat(o){var P=[[100,34.5],[104,36],[109,40.3],[113,41.8],[116.6,43],[119,44.8],[121.2,47.2],[123,50]];if(o<=100)return 34.5;for(var i=1;i<P.length;i++){if(o<=P[i][0]){var t=(o-P[i-1][0])/(P[i][0]-P[i-1][0]);return P[i-1][1]+t*(P[i][1]-P[i-1][1]);}}return 50;}
function cls(o,a,r,n1,n2){
 var n=n1*0.75+n2*0.25;
 if(o>120.6&&o<121.9&&a>30.7&&a<31.6)return r<0.55?11:(r<0.75?12:21);
 if(o>112.9&&o<114.4&&a>22.4&&a<23.4)return r<0.5?11:(r<0.65?12:51);
 if(o<97){
  if(o>90&&a<34.5){
   if(a<28.6&&o>91.5)return pk(r,[[51,.8],[31,.1],[41,.1]]);
   if(a<29.8&&o>93.5&&o<96.5&&n>-0.3)return pk(r,[[51,.6],[41,.4]]);
   var t=(o-90)/7-(a-30)*0.15;
   if(n+t>0.3)return pk(r,[[41,.88],[51,.06],[31,.06]]);
   return r<0.015?41:0;
  }
  if(a>46.2&&o>85.3&&o<90.8)return n>0.1?pk(r,[[41,.65],[31,.35]]):0;
  var ts=44.3-Math.max(0,o-86)*0.18;
  if(o>79.5&&o<95&&Math.abs(a-ts)<0.9)return n>-0.1?pk(r,[[41,.48],[31,.45],[24,.07]]):0;
  if(o>80&&o<84.5&&a>42.6&&a<44.2)return n>-0.05?pk(r,[[41,.55],[31,.45]]):0;
  var sr=o<78?39.3-(o-76)*0.85:(o<83?37.6-(o-78)*0.12:37.0+(o-83)*0.33);
  if(o>75.5&&o<89&&Math.abs(a-sr)<0.45)return n>0.1?pk(r,[[24,.4],[31,.48],[25,.12]]):0;
  var nr=41.2+(o-80)*0.1;
  if(o>77.5&&o<87&&Math.abs(a-nr)<0.45)return n>0.05?pk(r,[[24,.35],[31,.55],[41,.1]]):0;
  if(o>75&&o<77.6&&a>38.8&&a<40.2)return n>0?pk(r,[[24,.45],[31,.55]]):0;
  var hx0=40.2-Math.max(0,o-96)*0.33;
  if(o>93.5&&Math.abs(a-hx0)<0.5)return n>0.15?pk(r,[[24,.6],[31,.4]]):0;
  return 0;
 }
 if(o<104.5){
  if(a<26.5||(a<28.2&&o>100.8))return (o<100.5&&a>25)?pk(r,[[51,.5],[41,.32],[31,.18]]):pk(r,[[51,.78],[31,.13],[41,.05],[22,.02],[11,.02]]);
  if(a<35&&o<(a>31?103.5:102.5)){
   if(o<99&&a>33)return n>0.2?41:0;
   return n>-0.45?pk(r,[[41,.86],[51,.08],[31,.06]]):0;
  }
  if(a<32.8)return pk(r,[[51,.64],[31,.26],[41,.05],[22,.03],[11,.02]]);
  var hx=40.2-Math.max(0,o-96)*0.33;
  if(Math.abs(a-hx)<0.6&&a>36.5)return n>0.05?pk(r,[[24,.45],[31,.35],[25,.12],[41,.08]]):0;
  if(a<37.3&&o>99.5)return n>-0.25?pk(r,[[41,.65],[31,.22],[51,.13]]):0;
  if(a<37.3)return n>0.3?pk(r,[[41,.5],[31,.3],[24,.2]]):0;
  return 0;
 }
 var bl=bandLat(o);
 var bx=(o-116.3)/3.3,by=(a-35)/4.1,bd=bx*bx+by*by+n*0.45;
 if(bd<1&&a<39.6&&o>111.3)return pk(r,[[21,.48],[22,.2],[31,.14],[23,.1],[11,.05],[51,.03]]);
 if(a<30.8||(a<33.3&&o<112.5)||(a<35.6&&o<111.2&&a<bl-1.3))return pk(r,[[51,.8],[31,.1],[22,.03],[41,.03],[11,.02],[23,.02]]);
 if(a<34.6)return pk(r,[[31,.3],[22,.2],[21,.14],[23,.14],[51,.15],[11,.07]]);
 if(o<122.8&&a<bl+0.8&&a>bl-1.8)return n>-0.3?pk(r,[[41,.72],[31,.14],[51,.1],[24,.04]]):(r<0.25?31:0);
 if(a>=bl+0.8){
  if(o>120.3&&a>48.3)return n2>0.5?51:(r<0.02?41:0);
  return n>0.35?41:(r<0.015?41:0);
 }
 if(o<114.6&&a<40.8)return pk(r,[[51,.45],[41,.32],[31,.2],[22,.03]]);
 if(o>117.5&&a<38.2&&a>34.5)return pk(r,[[31,.58],[22,.13],[21,.1],[23,.1],[51,.05],[11,.04]]);
 if(a<41.5&&o<119.5)return pk(r,[[31,.38],[51,.28],[41,.12],[21,.1],[22,.07],[11,.05]]);
 if(o<124.5&&a<43.5)return o<121.5?pk(r,[[31,.45],[51,.25],[41,.2],[22,.1]]):pk(r,[[51,.65],[31,.35]]);
 if(o>129.8&&a>45.3)return n>0.3?(r<0.1?51:0):pk(r,[[31,.62],[51,.38]]);
 if(o>125.3&&a>46.6)return n>0.15?51:(r<0.05?51:0);
 if(o>124.5+Math.max(0,a-43)*0.8)return n>0.42?0:pk(r,[[51,.87],[31,.13]]);
 if(a>48.3)return n2>0.5?51:0;
 return pk(r,[[31,.6],[23,.1],[22,.1],[21,.06],[51,.09],[11,.05]]);
}
try{
var cv=document.getElementById('cv'),ctx=cv.getContext('2d');
var X0=1086,Y0=840,W=830,H=607;
var off=document.createElement('canvas');off.width=W;off.height=H;
var oc=off.getContext('2d');var img=oc.createImageData(W,H);var dd=img.data;
var N1=vn(11,1.3),N1b=vn(12,0.55),N2=vn(13,0.22),WX=vn(21,1.6),WY=vn(22,1.6),WX2=vn(23,0.5),WY2=vn(24,0.5);
for(var y=0;y<H;y++){
 var m=(1635.7-(Y0+y+0.5))/712;var la=(2*Math.atan(Math.exp(m))-Math.PI/2)*180/Math.PI;
 for(var x=0;x<W;x++){
  var lo=73.5+(X0+x+0.5-1130)/12.43;
  if(lo<73||lo>135.5||la<17.5||la>54)continue;
  var wo=lo+1.3*WX(lo,la)+0.35*WX2(lo,la), wa=la+1.0*WY(lo,la)+0.3*WY2(lo,la);
  var n1=0.7*N1(lo,la)+0.3*N1b(lo,la),n2=N2(lo,la);
  var cc=cls(wo,wa,R(),n1,n2);
  if(cc){var col=COL[cc],kq=(y*W+x)*4;dd[kq]=col[0];dd[kq+1]=col[1];dd[kq+2]=col[2];dd[kq+3]=255;}
 }
}
oc.putImageData(img,0,0);
ctx.save();var P2=new Path2D();[CN,TW,HN].forEach(function(poly){poly.forEach(function(p,i){var q=pD(p[0],p[1]);if(i)P2.lineTo(q[0],q[1]);else P2.moveTo(q[0],q[1]);});P2.closePath();});
ctx.clip(P2);ctx.drawImage(off,X0,Y0);ctx.restore();
}catch(e){}
})();
</script>
</body></html>
